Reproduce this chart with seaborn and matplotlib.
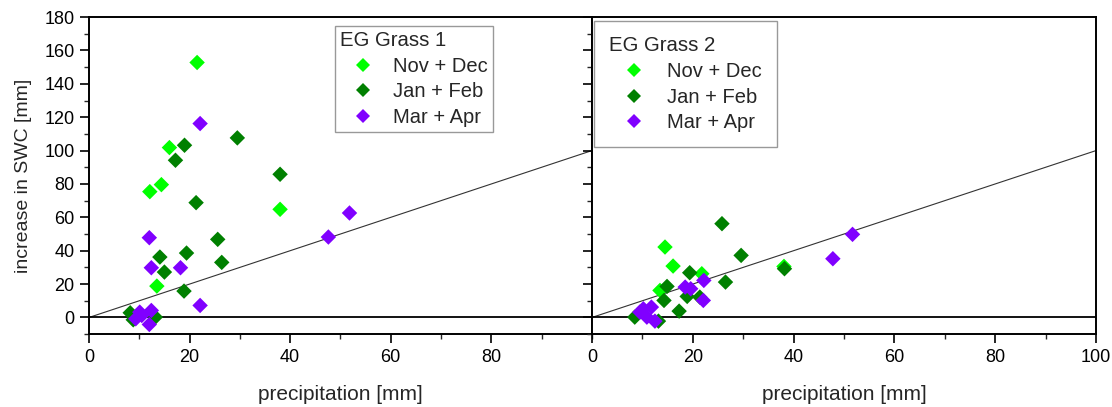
import numpy as np
import pandas as pd
import matplotlib
matplotlib.use("Agg")
import matplotlib.pyplot as plt
import seaborn as sns
from matplotlib.ticker import MultipleLocator
from matplotlib.lines import Line2D

sns.set_theme(style="white")
plt.rcParams['font.family'] = ['Liberation Sans', 'DejaVu Sans']

periods = ["Nov + Dec", "Jan + Feb", "Mar + Apr"]
colors = ["#00ff00", "#008000", "#8000ff"]

# EG Grass 1
g1_nd_x = [21.5, 16.0, 14.4, 12.1, 38.0, 13.5]
g1_nd_y = [152.8, 101.8, 79.6, 75.4, 64.8, 18.8]
g1_jf_x = [19.0, 17.2, 29.5, 38.0, 21.3, 25.6, 19.4, 14.1, 15.0, 26.4, 18.9, 8.2, 8.8, 13.2]
g1_jf_y = [103.2, 94.2, 107.6, 85.8, 68.8, 46.8, 38.6, 36.2, 27.2, 33.0, 15.8, 2.8, -1.4, 0.2]
g1_ma_x = [22.1, 12.0, 12.4, 18.2, 22.1, 47.6, 51.8, 10.1, 9.3, 12.4, 12.0, 10.5]
g1_ma_y = [116.2, 47.8, 29.8, 29.8, 7.2, 48.2, 62.6, 3.2, -0.8, 4.2, -4.2, 1.2]

# EG Grass 2
g2_nd_x = [14.5, 16.1, 21.8, 13.5, 38.1]
g2_nd_y = [42.2, 30.8, 26.2, 16.2, 30.6]
g2_jf_x = [25.8, 29.6, 19.4, 26.5, 14.9, 18.9, 14.3, 21.4, 17.3, 38.2, 8.5, 13.2]
g2_jf_y = [56.2, 37.2, 26.8, 21.2, 18.6, 12.6, 10.2, 12.2, 3.8, 29.2, 0.2, -2.2]
g2_ma_x = [51.7, 47.8, 22.2, 22.1, 18.5, 19.6, 10.2, 11.8, 10.9, 12.5, 9.5]
g2_ma_y = [49.8, 35.2, 22.2, 10.2, 18.2, 17.2, 5.2, 6.2, 0.2, -2.2, 3.2]

def frame(site, groups):
    rows = []
    for per, (xs, ys) in zip(periods, groups):
        for x, y in zip(xs, ys):
            rows.append({"site": site, "period": per, "precip": x, "swc": y})
    return pd.DataFrame(rows)

df1 = frame("EG Grass 1", [(g1_nd_x, g1_nd_y), (g1_jf_x, g1_jf_y), (g1_ma_x, g1_ma_y)])
df2 = frame("EG Grass 2", [(g2_nd_x, g2_nd_y), (g2_jf_x, g2_jf_y), (g2_ma_x, g2_ma_y)])

fig = plt.figure(figsize=(11.12, 4.07), dpi=100)
axL = fig.add_axes([0.080, 0.179, 0.4523, 0.779])
axR = fig.add_axes([0.5323, 0.179, 0.4533, 0.779])

palette = dict(zip(periods, colors))
legend_cfg = [
    (axL, df1, "EG Grass 1", (0.489, 0.972), 0.25, 2.3, 0.35),
    (axR, df2, "EG Grass 2", (0.004, 0.987), 0.75, 2.5, 0.4),
]
for ax, df, title, loc_anchor, bpad, hlen, htpad in legend_cfg:
    ax.plot([0, 100], [0, 100], color="#333333", lw=0.8, zorder=1)
    ax.axhline(0, color="black", lw=1.3, zorder=1)
    sns.scatterplot(data=df, x="precip", y="swc", hue="period", hue_order=periods,
                    palette=palette, marker="D", s=62, edgecolor="none",
                    ax=ax, legend=False, zorder=3)
    ax.set_xlim(0, 100)
    ax.set_ylim(-10, 180)
    ax.xaxis.set_major_locator(MultipleLocator(20))
    ax.xaxis.set_minor_locator(MultipleLocator(10))
    ax.yaxis.set_major_locator(MultipleLocator(20))
    ax.yaxis.set_minor_locator(MultipleLocator(10))
    ax.tick_params(which="major", direction="out", length=6.5, width=1.2,
                   labelsize=13, colors="black", bottom=True, left=True, pad=4)
    ax.tick_params(which="minor", direction="out", length=3.5, width=1.0,
                   bottom=True, left=True)
    for sp in ax.spines.values():
        sp.set_color("black")
        sp.set_linewidth(1.4)
    ax.set_xlabel("precipitation [mm]", fontsize=15, labelpad=14)
    handles = [Line2D([], [], marker="D", linestyle="none", color=c,
                      markersize=7.2, markeredgewidth=0) for c in colors]
    leg = ax.legend(handles, periods, title=title, loc="upper left",
                    bbox_to_anchor=loc_anchor, fontsize=14.5, title_fontsize=14.7,
                    frameon=True, fancybox=False, edgecolor="#808080",
                    borderpad=bpad, labelspacing=0.33, handletextpad=htpad,
                    handlelength=hlen, borderaxespad=0)
    leg.get_frame().set_linewidth(1.0)
    leg._legend_box.align = "left"

axL.set_ylabel("increase in SWC [mm]", fontsize=14, labelpad=9)
axL.set_xticks([0, 20, 40, 60, 80])
axR.set_ylabel("")
axR.tick_params(axis="y", labelleft=False)

fig.savefig("out.png", dpi=100)
